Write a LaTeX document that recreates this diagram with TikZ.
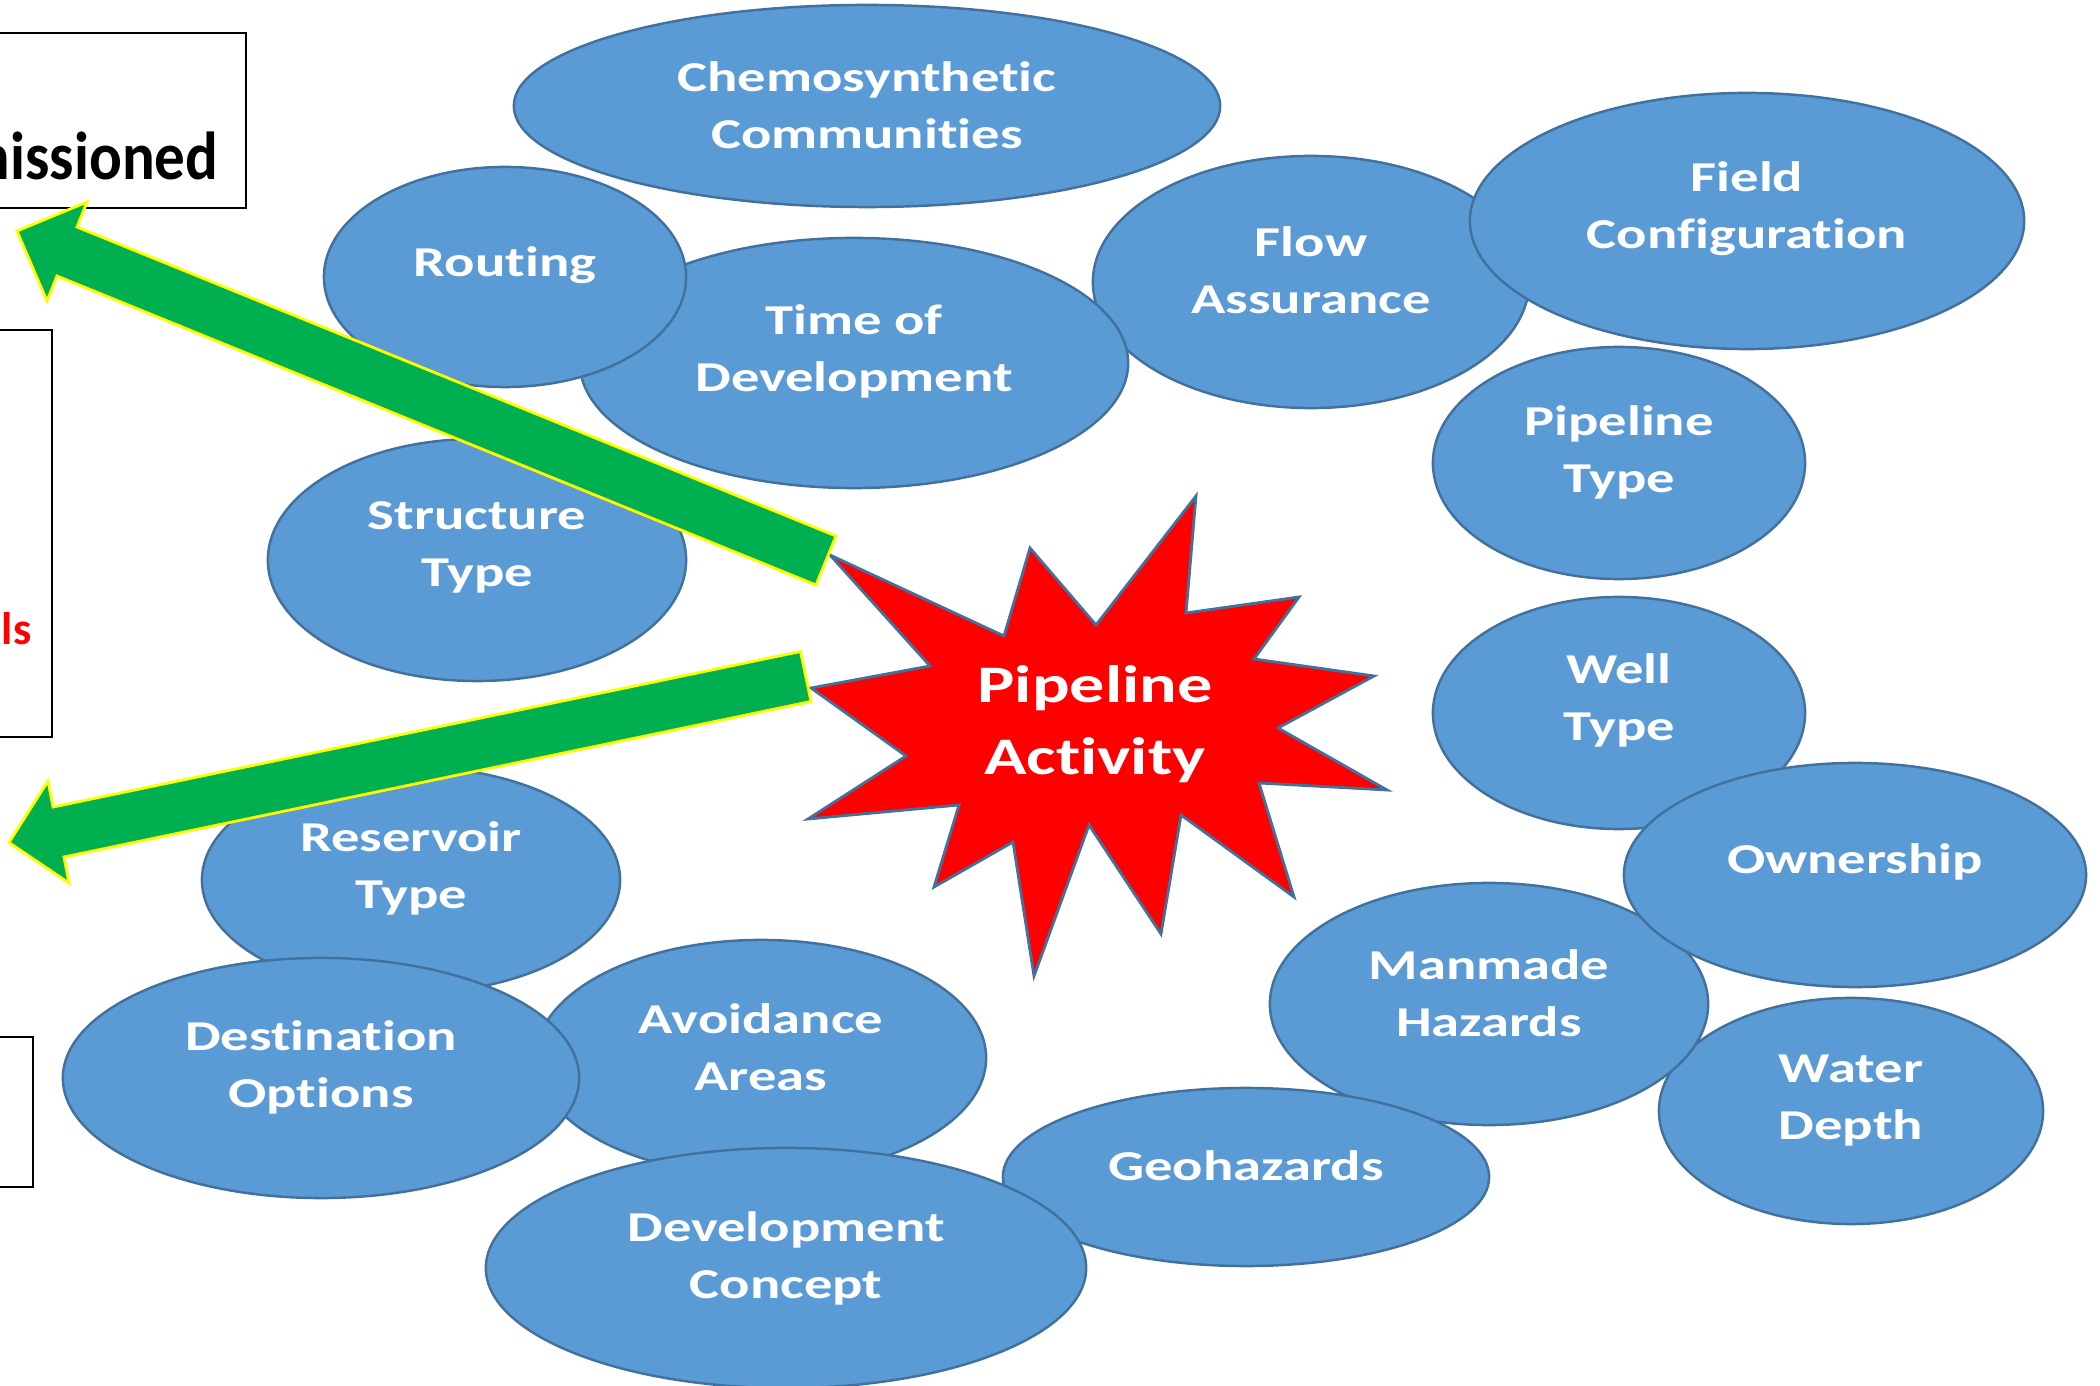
\documentclass[tikz,border=0pt]{standalone}
\usepackage{fontspec}
\usepackage{tikz}
\usetikzlibrary{shapes.geometric}
\newfontfamily\bubfont{Carlito}[FakeStretch=1.33,Ligatures=NoCommon]
\newfontfamily\boxfont{Carlito}[FakeStretch=0.9,Ligatures=NoCommon]
\newfontfamily\redfont{Carlito}[Ligatures=NoCommon]
\definecolor{bubfill}{RGB}{91,155,213}
\definecolor{bubline}{RGB}{65,113,156}
\definecolor{arrowgreen}{RGB}{0,176,80}
\definecolor{arrowedge}{RGB}{255,255,0}
\definecolor{burstred}{RGB}{255,0,0}
\tikzset{
  bubble/.style={ellipse,draw=bubline,fill=bubfill,line width=0.7pt,inner sep=0pt},
  bubtext/.style={text=white,align=center,inner sep=0pt,font=\bubfont\bfseries\fontsize{12.1}{16.2}\selectfont},
  burst/.style={draw=bubline,fill=burstred,line width=0.8pt,line join=miter},
  bursttext/.style={text=white,align=center,inner sep=0pt,font=\bubfont\bfseries\fontsize{15}{20.5}\selectfont},
  bigarrow/.style={draw=arrowedge,fill=arrowgreen,line width=0.8pt,line join=miter},
  sidebox/.style={draw=black,line width=0.7pt},
  sidetext/.style={inner sep=0pt,anchor=base east}
}

\begin{document}
\begin{tikzpicture}[x=0.01cm,y=-0.01cm]
  \useasboundingbox (0,0) rectangle (2100,1386);
  \clip (0,0) rectangle (2100,1386);
  % boxes cut off at the left edge
  \draw (-50,33) rectangle (246,208) [sidebox];
  \draw (-50,330) rectangle (52,737) [sidebox];
  \draw (-50,1037) rectangle (33,1187) [sidebox];
  \node[sidetext,font=\boxfont\bfseries\fontsize{19.3}{22}\selectfont] (decomm) at (219,180) {missioned};
  \node[sidetext,text=red,font=\redfont\bfseries\fontsize{13}{16}\selectfont] (redtail) at (32,645) {ls};

  % bubbles, back to front
  \node[bubble,minimum width=7.06cm,minimum height=2.02cm] (chemo) at (867,106) {};
  \node[bubtext] (chemoT) at (867,105) {Chemosynthetic\\Communities};
  \node[bubble,minimum width=4.36cm,minimum height=2.52cm] (flow) at (1311,282) {};
  \node[bubtext] (flowT) at (1311,270) {Flow\\Assurance};
  \node[bubble,minimum width=5.48cm,minimum height=2.50cm] (timedev) at (854,363) {};
  \node[bubtext] (timedevT) at (854,351) {Time of\\Development};
  \node[bubble,minimum width=3.62cm,minimum height=2.20cm] (routing) at (505,277) {};
  \node[bubtext] (routingT) at (505,265) {Routing};
  \node[bubble,minimum width=4.18cm,minimum height=2.42cm] (struct) at (477,560) {};
  \node[bubtext] (structT) at (477,547) {Structure\\Type};
  \node[bubble,minimum width=5.54cm,minimum height=2.56cm] (field) at (1747,221) {};
  \node[bubtext] (fieldT) at (1747,209) {Field\\Configuration};
  \node[bubble,minimum width=3.72cm,minimum height=2.32cm] (pipetype) at (1619,463) {};
  \node[bubtext] (pipetypeT) at (1619,452) {Pipeline\\Type};
  \node[bubble,minimum width=3.72cm,minimum height=2.32cm] (welltype) at (1619,713) {};
  \node[bubtext] (welltypeT) at (1619,700) {Well\\Type};
  \node[bubble,minimum width=3.84cm,minimum height=2.26cm] (water) at (1851,1111) {};
  \node[bubtext] (waterT) at (1851,1101) {Water\\Depth};
  \node[bubble,minimum width=4.38cm,minimum height=2.42cm] (manmade) at (1489,1004) {};
  \node[bubtext] (manmadeT) at (1489,993) {Manmade\\Hazards};
  \node[bubble,minimum width=4.62cm,minimum height=2.24cm] (owner) at (1855,875) {};
  \node[bubtext] (ownerT) at (1855,862) {Ownership};
  \node[bubble,minimum width=4.86cm,minimum height=1.78cm] (geohaz) at (1246,1177) {};
  \node[bubtext] (geohazT) at (1246,1166) {Geohazards};
  \node[bubble,minimum width=4.18cm,minimum height=2.26cm] (reservoir) at (411,880) {};
  \node[bubtext] (reservoirT) at (411,868) {Reservoir\\Type};
  \node[bubble,minimum width=4.50cm,minimum height=2.36cm] (avoid) at (761,1058) {};
  \node[bubtext] (avoidT) at (761,1047) {Avoidance\\Areas};
  \node[bubble,minimum width=5.16cm,minimum height=2.40cm] (dest) at (321,1078) {};
  \node[bubtext] (destT) at (321,1067) {Destination\\Options};
  \node[bubble,minimum width=6.00cm,minimum height=2.40cm] (devcon) at (786,1268) {};
  \node[bubtext] (devconT) at (786,1258) {Development\\Concept};

  % the burst in the middle
  \draw (1196,496) -- (1186,613) -- (1299,597) -- (1254,659) -- (1374,676) -- (1278,728)
     -- (1387,790) -- (1259,783) -- (1294,897) -- (1181,815) -- (1161,934) -- (1089,825)
     -- (1034,976) -- (1013,842) -- (934,887) -- (959,805) -- (808,819) -- (906,756)
     -- (811,688) -- (930,666) -- (830,555) -- (1004,636) -- (1030,548) -- (1096,625) -- cycle [burst];
  \node[bursttext] (activity) at (1095,724) {Pipeline\\Activity};

  % block arrows out to the boxes
  \coordinate (UPTIP) at (17,231);
  \coordinate (LOWTIP) at (9,842.5);
  \filldraw (UPTIP) -- (87,202) -- (77,227) -- (836,536) -- (816,585) -- (57,276) -- (47,301) -- cycle [bigarrow];
  \filldraw (LOWTIP) -- (48,781) -- (53,807) -- (800.5,651.5) -- (811,701.5) -- (64,857) -- (69,883) -- cycle [bigarrow];
\end{tikzpicture}
\end{document}
